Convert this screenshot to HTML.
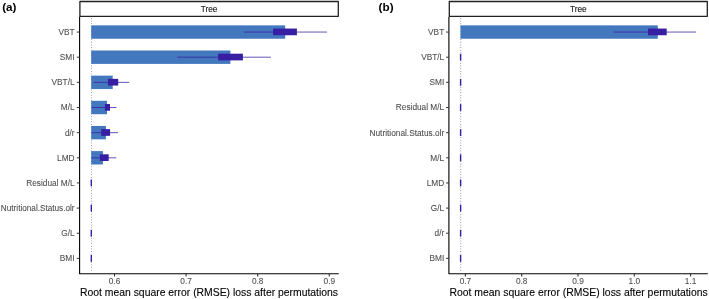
<!DOCTYPE html>
<html><head><meta charset="utf-8"><style>
html,body{margin:0;padding:0;background:#fff;}
body{width:709px;height:299px;overflow:hidden;}
svg{display:block;will-change:transform;}
</style></head><body>
<svg width="709" height="299" viewBox="0 0 709 299">
<style>
text { font-family: "Liberation Sans", sans-serif; }
.st { fill: #1a1a1a; stroke:#1a1a1a; stroke-width:0.5px; }
.yl { fill: #4d4d4d; stroke:#4d4d4d; stroke-width:0.3px; }
.xl { fill: #4d4d4d; stroke:#4d4d4d; stroke-width:0.3px; }
.ti { fill: #000; stroke:#000; stroke-width:0.4px; }
.tag { font-weight: bold; fill: #000; }
</style>
<rect width="709" height="299" fill="#fff"/>
<g transform="translate(2.20,11.10) scale(0.25)"><text x="0" y="0" font-size="46.80" class="tag" text-anchor="start">(a)</text></g>
<g transform="translate(378.60,11.10) scale(0.25)"><text x="0" y="0" font-size="46.80" class="tag" text-anchor="start">(b)</text></g>
<rect x="79.9" y="1.5" width="258.4" height="14.8" fill="#fff" stroke="#222" stroke-width="1.3" stroke-linejoin="round"/>
<g transform="translate(209.10,11.90) scale(0.25)"><text x="0" y="0" font-size="33.20" class="st" text-anchor="middle">Tree</text></g>
<line x1="91.4" y1="18" x2="91.4" y2="272" stroke="#4646b4" stroke-width="0.8" stroke-dasharray="0.8 1.85" opacity="0.9"/>
<rect x="91.2" y="25.349999999999998" width="194.0" height="13.4" fill="#4378bf"/>
<line x1="244.2" y1="32.05" x2="327.0" y2="32.05" stroke="#371ea3" stroke-width="0.75"/>
<rect x="273.1" y="28.549999999999997" width="23.799999999999955" height="6.7" fill="#371ea3"/>
<rect x="91.2" y="50.49999999999999" width="139.2" height="13.4" fill="#4378bf"/>
<line x1="177.3" y1="57.199999999999996" x2="270.9" y2="57.199999999999996" stroke="#371ea3" stroke-width="0.75"/>
<rect x="218.1" y="53.699999999999996" width="24.80000000000001" height="6.7" fill="#371ea3"/>
<rect x="91.2" y="75.64999999999999" width="21.5" height="13.4" fill="#4378bf"/>
<line x1="93.5" y1="82.35" x2="129.2" y2="82.35" stroke="#371ea3" stroke-width="0.75"/>
<rect x="108.0" y="78.85" width="10.200000000000003" height="6.7" fill="#371ea3"/>
<rect x="91.2" y="100.79999999999998" width="15.799999999999997" height="13.4" fill="#4378bf"/>
<line x1="91.6" y1="107.49999999999999" x2="116.5" y2="107.49999999999999" stroke="#371ea3" stroke-width="0.75"/>
<rect x="104.9" y="103.99999999999999" width="5.099999999999994" height="6.7" fill="#371ea3"/>
<rect x="91.2" y="125.94999999999997" width="14.700000000000003" height="13.4" fill="#4378bf"/>
<line x1="91.3" y1="132.64999999999998" x2="118.0" y2="132.64999999999998" stroke="#371ea3" stroke-width="0.75"/>
<rect x="101.2" y="129.14999999999998" width="8.899999999999991" height="6.7" fill="#371ea3"/>
<rect x="91.2" y="151.10000000000002" width="11.700000000000003" height="13.4" fill="#4378bf"/>
<line x1="91.3" y1="157.8" x2="116.3" y2="157.8" stroke="#371ea3" stroke-width="0.75"/>
<rect x="99.8" y="154.3" width="8.900000000000006" height="6.7" fill="#371ea3"/>
<rect x="90.60000000000001" y="179.54999999999998" width="1.4" height="6.8" fill="#371ea3"/>
<rect x="90.60000000000001" y="204.69999999999996" width="1.4" height="6.8" fill="#371ea3"/>
<rect x="90.60000000000001" y="229.85" width="1.4" height="6.8" fill="#371ea3"/>
<rect x="90.60000000000001" y="254.99999999999997" width="1.4" height="6.8" fill="#371ea3"/>
<path d="M79.6,16.8 V273.75 H338.8" fill="none" stroke="#000" stroke-width="1.1" stroke-linejoin="round"/>
<line x1="76.8" y1="32.05" x2="79.6" y2="32.05" stroke="#333" stroke-width="1"/>
<g transform="translate(74.60,34.95) scale(0.25)"><text x="0" y="0" font-size="33.20" class="yl" text-anchor="end">VBT</text></g>
<line x1="76.8" y1="57.199999999999996" x2="79.6" y2="57.199999999999996" stroke="#333" stroke-width="1"/>
<g transform="translate(74.60,60.10) scale(0.25)"><text x="0" y="0" font-size="33.20" class="yl" text-anchor="end">SMI</text></g>
<line x1="76.8" y1="82.35" x2="79.6" y2="82.35" stroke="#333" stroke-width="1"/>
<g transform="translate(74.60,85.25) scale(0.25)"><text x="0" y="0" font-size="33.20" class="yl" text-anchor="end">VBT/L</text></g>
<line x1="76.8" y1="107.49999999999999" x2="79.6" y2="107.49999999999999" stroke="#333" stroke-width="1"/>
<g transform="translate(74.60,110.40) scale(0.25)"><text x="0" y="0" font-size="33.20" class="yl" text-anchor="end">M/L</text></g>
<line x1="76.8" y1="132.64999999999998" x2="79.6" y2="132.64999999999998" stroke="#333" stroke-width="1"/>
<g transform="translate(74.60,135.55) scale(0.25)"><text x="0" y="0" font-size="33.20" class="yl" text-anchor="end">d/r</text></g>
<line x1="76.8" y1="157.8" x2="79.6" y2="157.8" stroke="#333" stroke-width="1"/>
<g transform="translate(74.60,160.70) scale(0.25)"><text x="0" y="0" font-size="33.20" class="yl" text-anchor="end">LMD</text></g>
<line x1="76.8" y1="182.95" x2="79.6" y2="182.95" stroke="#333" stroke-width="1"/>
<g transform="translate(74.60,185.85) scale(0.25)"><text x="0" y="0" font-size="33.20" class="yl" text-anchor="end">Residual M/L</text></g>
<line x1="76.8" y1="208.09999999999997" x2="79.6" y2="208.09999999999997" stroke="#333" stroke-width="1"/>
<g transform="translate(74.60,211.00) scale(0.25)"><text x="0" y="0" font-size="32.80" class="yl" text-anchor="end">Nutritional.Status.olr</text></g>
<line x1="76.8" y1="233.25" x2="79.6" y2="233.25" stroke="#333" stroke-width="1"/>
<g transform="translate(74.60,236.15) scale(0.25)"><text x="0" y="0" font-size="33.20" class="yl" text-anchor="end">G/L</text></g>
<line x1="76.8" y1="258.4" x2="79.6" y2="258.4" stroke="#333" stroke-width="1"/>
<g transform="translate(74.60,261.30) scale(0.25)"><text x="0" y="0" font-size="33.20" class="yl" text-anchor="end">BMI</text></g>
<line x1="114.5" y1="273.75" x2="114.5" y2="276.4" stroke="#333" stroke-width="1.1"/>
<g transform="translate(114.50,284.20) scale(0.25)"><text x="0" y="0" font-size="33.20" class="xl" text-anchor="middle">0.6</text></g>
<line x1="186.1" y1="273.75" x2="186.1" y2="276.4" stroke="#333" stroke-width="1.1"/>
<g transform="translate(186.10,284.20) scale(0.25)"><text x="0" y="0" font-size="33.20" class="xl" text-anchor="middle">0.7</text></g>
<line x1="257.7" y1="273.75" x2="257.7" y2="276.4" stroke="#333" stroke-width="1.1"/>
<g transform="translate(257.70,284.20) scale(0.25)"><text x="0" y="0" font-size="33.20" class="xl" text-anchor="middle">0.8</text></g>
<line x1="329.3" y1="273.75" x2="329.3" y2="276.4" stroke="#333" stroke-width="1.1"/>
<g transform="translate(329.30,284.20) scale(0.25)"><text x="0" y="0" font-size="33.20" class="xl" text-anchor="middle">0.9</text></g>
<g transform="translate(209.00,296.10) scale(0.25)"><text x="0" y="0" font-size="41.60" class="ti" text-anchor="middle">Root mean square error (RMSE) loss after permutations</text></g>
<rect x="449.3" y="1.5" width="257.99999999999994" height="14.8" fill="#fff" stroke="#222" stroke-width="1.3" stroke-linejoin="round"/>
<g transform="translate(578.30,11.90) scale(0.25)"><text x="0" y="0" font-size="33.20" class="st" text-anchor="middle">Tree</text></g>
<line x1="460.7" y1="18" x2="460.7" y2="272" stroke="#4646b4" stroke-width="0.8" stroke-dasharray="0.8 1.85" opacity="0.9"/>
<rect x="460.5" y="25.349999999999998" width="197.29999999999995" height="13.4" fill="#4378bf"/>
<line x1="613.4" y1="32.05" x2="696.1" y2="32.05" stroke="#371ea3" stroke-width="0.75"/>
<rect x="648.1" y="28.549999999999997" width="18.600000000000023" height="6.7" fill="#371ea3"/>
<rect x="459.9" y="53.8" width="1.4" height="6.8" fill="#371ea3"/>
<rect x="459.9" y="78.94999999999999" width="1.4" height="6.8" fill="#371ea3"/>
<rect x="459.9" y="104.09999999999998" width="1.4" height="6.8" fill="#371ea3"/>
<rect x="459.9" y="129.24999999999997" width="1.4" height="6.8" fill="#371ea3"/>
<rect x="459.9" y="154.4" width="1.4" height="6.8" fill="#371ea3"/>
<rect x="459.9" y="179.54999999999998" width="1.4" height="6.8" fill="#371ea3"/>
<rect x="459.9" y="204.69999999999996" width="1.4" height="6.8" fill="#371ea3"/>
<rect x="459.9" y="229.85" width="1.4" height="6.8" fill="#371ea3"/>
<rect x="459.9" y="254.99999999999997" width="1.4" height="6.8" fill="#371ea3"/>
<path d="M448.9,16.8 V273.75 H707.8" fill="none" stroke="#000" stroke-width="1.1" stroke-linejoin="round"/>
<line x1="446.09999999999997" y1="32.05" x2="448.9" y2="32.05" stroke="#333" stroke-width="1"/>
<g transform="translate(444.20,34.95) scale(0.25)"><text x="0" y="0" font-size="33.20" class="yl" text-anchor="end">VBT</text></g>
<line x1="446.09999999999997" y1="57.199999999999996" x2="448.9" y2="57.199999999999996" stroke="#333" stroke-width="1"/>
<g transform="translate(444.20,60.10) scale(0.25)"><text x="0" y="0" font-size="33.20" class="yl" text-anchor="end">VBT/L</text></g>
<line x1="446.09999999999997" y1="82.35" x2="448.9" y2="82.35" stroke="#333" stroke-width="1"/>
<g transform="translate(444.20,85.25) scale(0.25)"><text x="0" y="0" font-size="33.20" class="yl" text-anchor="end">SMI</text></g>
<line x1="446.09999999999997" y1="107.49999999999999" x2="448.9" y2="107.49999999999999" stroke="#333" stroke-width="1"/>
<g transform="translate(444.20,110.40) scale(0.25)"><text x="0" y="0" font-size="33.20" class="yl" text-anchor="end">Residual M/L</text></g>
<line x1="446.09999999999997" y1="132.64999999999998" x2="448.9" y2="132.64999999999998" stroke="#333" stroke-width="1"/>
<g transform="translate(444.20,135.55) scale(0.25)"><text x="0" y="0" font-size="33.20" class="yl" text-anchor="end">Nutritional.Status.olr</text></g>
<line x1="446.09999999999997" y1="157.8" x2="448.9" y2="157.8" stroke="#333" stroke-width="1"/>
<g transform="translate(444.20,160.70) scale(0.25)"><text x="0" y="0" font-size="33.20" class="yl" text-anchor="end">M/L</text></g>
<line x1="446.09999999999997" y1="182.95" x2="448.9" y2="182.95" stroke="#333" stroke-width="1"/>
<g transform="translate(444.20,185.85) scale(0.25)"><text x="0" y="0" font-size="33.20" class="yl" text-anchor="end">LMD</text></g>
<line x1="446.09999999999997" y1="208.09999999999997" x2="448.9" y2="208.09999999999997" stroke="#333" stroke-width="1"/>
<g transform="translate(444.20,211.00) scale(0.25)"><text x="0" y="0" font-size="33.20" class="yl" text-anchor="end">G/L</text></g>
<line x1="446.09999999999997" y1="233.25" x2="448.9" y2="233.25" stroke="#333" stroke-width="1"/>
<g transform="translate(444.20,236.15) scale(0.25)"><text x="0" y="0" font-size="33.20" class="yl" text-anchor="end">d/r</text></g>
<line x1="446.09999999999997" y1="258.4" x2="448.9" y2="258.4" stroke="#333" stroke-width="1"/>
<g transform="translate(444.20,261.30) scale(0.25)"><text x="0" y="0" font-size="33.20" class="yl" text-anchor="end">BMI</text></g>
<line x1="465.4" y1="273.75" x2="465.4" y2="276.4" stroke="#333" stroke-width="1.1"/>
<g transform="translate(465.40,284.20) scale(0.25)"><text x="0" y="0" font-size="33.20" class="xl" text-anchor="middle">0.7</text></g>
<line x1="521.7" y1="273.75" x2="521.7" y2="276.4" stroke="#333" stroke-width="1.1"/>
<g transform="translate(521.70,284.20) scale(0.25)"><text x="0" y="0" font-size="33.20" class="xl" text-anchor="middle">0.8</text></g>
<line x1="578.0" y1="273.75" x2="578.0" y2="276.4" stroke="#333" stroke-width="1.1"/>
<g transform="translate(578.00,284.20) scale(0.25)"><text x="0" y="0" font-size="33.20" class="xl" text-anchor="middle">0.9</text></g>
<line x1="634.3" y1="273.75" x2="634.3" y2="276.4" stroke="#333" stroke-width="1.1"/>
<g transform="translate(634.30,284.20) scale(0.25)"><text x="0" y="0" font-size="33.20" class="xl" text-anchor="middle">1.0</text></g>
<line x1="690.6" y1="273.75" x2="690.6" y2="276.4" stroke="#333" stroke-width="1.1"/>
<g transform="translate(690.60,284.20) scale(0.25)"><text x="0" y="0" font-size="33.20" class="xl" text-anchor="middle">1.1</text></g>
<g transform="translate(578.60,296.10) scale(0.25)"><text x="0" y="0" font-size="41.60" class="ti" text-anchor="middle">Root mean square error (RMSE) loss after permutations</text></g>
</svg>
</body></html>
